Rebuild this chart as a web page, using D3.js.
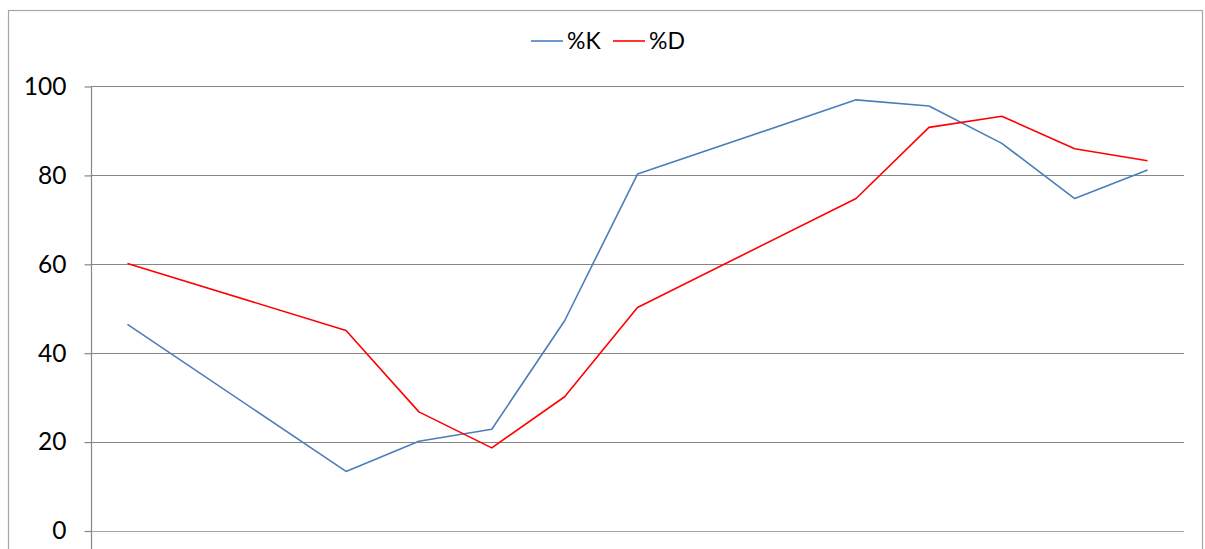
<!DOCTYPE html>
<html>
<head>
<meta charset="utf-8">
<script src="https://cdn.jsdelivr.net/npm/d3@7"></script>
<style>
  html, body { margin: 0; padding: 0; background: #fff; }
  svg { display: block; }
  text { font-family: Lato, "Open Sans", sans-serif; fill: #000; }
</style>
</head>
<body>
<svg id="chart" width="1205" height="549"></svg>
<script>
// Trading days (weekends are left empty on the date axis)
const tradeDates = [
  "2012-06-01",
  "2012-06-04", "2012-06-05", "2012-06-06", "2012-06-07", "2012-06-08",
  "2012-06-11", "2012-06-12", "2012-06-13", "2012-06-14", "2012-06-15"
];
// Stochastic oscillator values
const kValues = [46.5, 13.4, 20.2, 22.9, 47.3, 80.3, 97.0, 95.6, 87.2, 74.8, 81.2];
const dValues = [60.2, 45.1, 26.8, 18.7, 30.2, 50.3, 74.8, 90.8, 93.3, 86.0, 83.3];
const yTicks = [0, 20, 40, 60, 80, 100];
const seriesNames = ["%K", "%D"];
const seriesColors = ["#4a7ebb", "#ff0000"];

const svg = d3.select("#chart");
const W = 1205, H = 549;
const plot = { left: 91, right: 1184, top: 86.5, bottom: 531 };

// Outer chart frame
svg.append("rect")
  .attr("x", 8.5).attr("y", 10.5)
  .attr("width", 1194).attr("height", 560)
  .attr("fill", "#fff")
  .attr("stroke", "#a6a6a6").attr("stroke-width", 1.2);

const parse = d3.timeParse("%Y-%m-%d");
const fmt = d3.timeFormat("%Y-%m-%d");
const first = parse(tradeDates[0]);
const last = parse(tradeDates[tradeDates.length - 1]);
const allDays = d3.timeDay.range(first, d3.timeDay.offset(last, 1)).map(fmt);

const x = d3.scaleBand().domain(allDays).range([plot.left, plot.right]);
const y = d3.scaleLinear().domain([0, 100]).range([plot.bottom, plot.top]);
const cx = d => x(d) + x.bandwidth() / 2;
const snap = v => Math.round(v) + 0.5;

// Horizontal gridlines
svg.append("g")
  .selectAll("line")
  .data(yTicks)
  .join("line")
  .attr("x1", plot.left).attr("x2", plot.right)
  .attr("y1", d => snap(y(d) - 0.5)).attr("y2", d => snap(y(d) - 0.5))
  .attr("stroke", d => d === 0 ? "#a6a6a6" : "#868686")
  .attr("stroke-width", 1.2);

// Value axis
const yAxis = d3.axisLeft(y).tickValues(yTicks).tickSize(7).tickPadding(18);
const gy = svg.append("g").attr("transform", `translate(${plot.left + 0.5},0)`).call(yAxis);
gy.select(".domain").remove();
gy.selectAll(".tick line").attr("stroke", "#868686").attr("stroke-width", 1.2);
gy.selectAll(".tick text")
  .attr("font-size", 24.5)
  .attr("font-family", "Lato, sans-serif")
  .attr("fill", "#000");
svg.append("line")
  .attr("x1", plot.left + 0.5).attr("x2", plot.left + 0.5)
  .attr("y1", plot.top).attr("y2", H)
  .attr("stroke", "#868686").attr("stroke-width", 1.2);

// Series lines
const series = [kValues, dValues].map((vals, i) => ({
  name: seriesNames[i],
  color: seriesColors[i],
  points: tradeDates.map((d, j) => ({ date: d, value: vals[j] }))
}));

const line = d3.line().x(p => cx(p.date)).y(p => y(p.value));
svg.append("g")
  .selectAll("path")
  .data(series)
  .join("path")
  .attr("d", s => line(s.points))
  .attr("fill", "none")
  .attr("stroke", s => s.color)
  .attr("stroke-width", 1.6)
  .attr("stroke-linejoin", "round");

// Legend
const legendX = [531, 613];
const lg = svg.append("g").selectAll("g").data(series).join("g")
  .attr("transform", (s, i) => `translate(${legendX[i]},41)`);
lg.append("line")
  .attr("x1", 0).attr("x2", 32)
  .attr("stroke", s => s.color).attr("stroke-width", 1.6);
lg.append("text")
  .attr("x", 36).attr("y", 0).attr("dy", "0.35em")
  .attr("font-size", 23)
  .text(s => s.name);
</script>
</body>
</html>
